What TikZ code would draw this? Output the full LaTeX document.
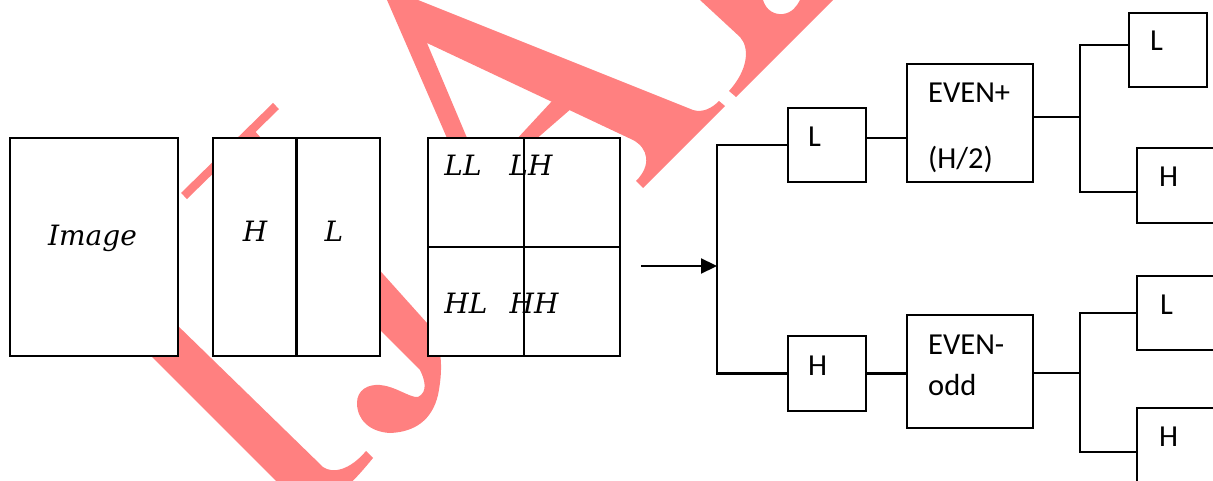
\documentclass[tikz,border=0pt]{standalone}
\usepackage{fontspec}
\setmainfont{Carlito}
\newfontfamily\wmserif{DejaVu Serif}
\usetikzlibrary{arrows.meta}
\definecolor{wmpink}{RGB}{255,128,128}
\begin{document}
\begin{tikzpicture}[x=1pt,y=-1pt,
  box/.style={draw, line width=2.2pt, fill=white, inner sep=0pt, outer sep=0pt},
  conn/.style={line width=2.2pt},
  lab/.style={inner sep=0pt, anchor=base west, font={\fontsize{30.5}{36}\selectfont}},
  ilab/.style={inner sep=0pt, anchor=base, font={\wmserif\itshape\fontsize{28}{32}\selectfont}},
  wmark/.style={fill=wmpink, draw=none},
  wline/.style={draw=wmpink, line width=8.5pt}]
\useasboundingbox (0,0) rectangle (1213,481);
\begin{scope}
\clip (0,0) rectangle (1213,481);
% watermark strokes
\fill[wmark] (136,285) -- (323,467) .. controls (333,474) and (350,470) .. (366,451)
  -- (373,458) .. controls (355,480) and (345,490) .. (330,497) -- (292,497) -- (108,313) -- cycle;
\draw[wline] (184,196) -- (276,106);
\fill[wmark] (225,158) -- (253.5,129.6) -- (427,323)
  .. controls (445,345) and (442,375) .. (438,395)
  .. controls (432,420) and (415,432) .. (390,433)
  .. controls (370,432) and (357,420) .. (357,403)
  .. controls (357,390) and (368,384) .. (380,385)
  .. controls (395,386) and (410,398) .. (418,397)
  .. controls (428,392) and (425,380) .. (420,370) -- (380,330) -- cycle;
\fill[wmark] (387,0) -- (418,0) -- (693,110) .. controls (703,113) and (712,108) .. (719,101)
  -- (725,106) -- (643,188) -- (636,181) .. controls (652,165) and (648,148) .. (633,140)
  -- (427,43) -- (470,145) -- (450,145) -- cycle;
\fill[wmark] (515,141) -- (553,100) -- (572,108) -- (534,141) -- cycle;
\fill[wmark] (700,0) -- (763,0) .. controls (766,10) and (774,15) .. (783,14)
  .. controls (792,13) and (797,6) .. (800,0) -- (833,0) -- (736,97) -- (729,91)
  .. controls (748,70) and (750,48) .. (740,37) -- cycle;
% left panels
\node[box, minimum width=168pt, minimum height=218pt] (img) at (94,247) {};
\node[box, minimum width=167pt, minimum height=218pt] (hl) at (296.5,247) {};
\draw[conn] (hl.north) -- (hl.south);
\node[box, minimum width=192pt, minimum height=218pt] (grid) at (524,247) {};
\draw[conn] (grid.north) -- (grid.south);
\draw[conn] (grid.west) -- (grid.east);
\node[ilab] (timg) at (92.5,246) {Image};
\node[ilab] (th) at (255,242) {H};
\node[ilab] (tl) at (334,242) {L};
\node[ilab] (tll) at (463,176) {LL};
\node[ilab] (tlh) at (531,176) {LH};
\node[ilab] (thl) at (466,313) {HL};
\node[ilab] (thh) at (534,313) {HH};
% right tree
\coordinate (a0) at (641,266);
\coordinate (sp) at (717,266);
\node[box, minimum width=78pt, minimum height=74pt] (L1) at (827,145) {};
\node[box, minimum width=78pt, minimum height=75pt] (H1) at (827,373.5) {};
\node[box, minimum width=126pt, minimum height=118pt] (E1) at (970,123) {};
\node[box, minimum width=126pt, minimum height=113pt] (E2) at (970,371.5) {};
\node[box, minimum width=78pt, minimum height=74pt] (R1) at (1168,50) {};
\node[box, minimum width=83pt, minimum height=75pt] (R2) at (1178.5,185.5) {};
\node[box, minimum width=83pt, minimum height=74pt] (R3) at (1178.5,313) {};
\node[box, minimum width=83pt, minimum height=88pt] (R4) at (1178.5,452) {};
\coordinate (j1) at (1080,117);
\coordinate (j2) at (1080,373);
\draw[conn, -{Triangle[length=16pt,width=15pt]}] (a0) -- (sp);
\draw[conn] (L1.west) -| (sp);
\draw[conn] (H1.west) -| (sp);
\draw[conn] ([yshift=7pt]L1.east) -- ([yshift=7pt]L1.east -| E1.west);
\draw[conn] (H1.east) -- (H1.east -| E2.west);
\draw[conn] ([yshift=6pt]E1.east) -- (j1);
\draw[conn] ([yshift=5pt]R1.west) -| (j1);
\draw[conn] ([yshift=-6.5pt]R2.west) -| (j1);
\draw[conn] ([yshift=-1.5pt]E2.east) -- (j2);
\draw[conn] (R3.west) -| (j2);
\draw[conn] (R4.west) -| (j2);
\node[lab] (tL1) at (808,147) {L};
\node[lab] (tH1) at (808,375) {H};
\node[lab] (tE1a) at (928,103) {EVEN+};
\node[lab] (tE1b) at (928,169) {(H/2)};
\node[lab] (tE2a) at (928,354) {EVEN-};
\node[lab] (tE2b) at (928,395) {odd};
\node[lab] (tR1) at (1150,51) {L};
\node[lab] (tR2) at (1159,187) {H};
\node[lab] (tR3) at (1160,314) {L};
\node[lab] (tR4) at (1159,446) {H};
\end{scope}
\end{tikzpicture}
\end{document}
